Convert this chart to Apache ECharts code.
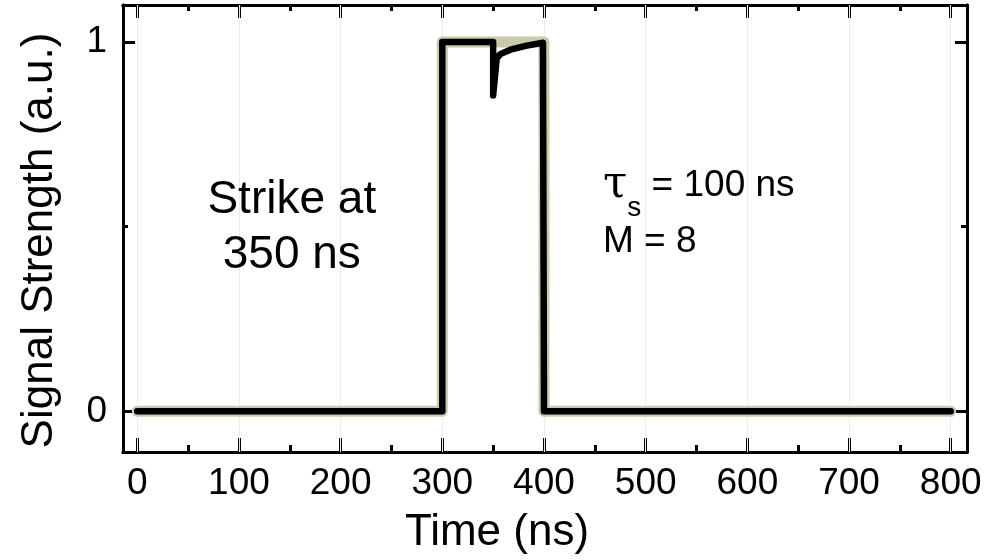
<!DOCTYPE html>
<html>
<head>
<meta charset="utf-8">
<script src="https://cdn.jsdelivr.net/npm/echarts@6.0.0/dist/echarts.min.js"></script>
<style>
  html, body { margin: 0; background: #fff; }
  #chart { width: 997px; height: 560px; }
</style>
</head>
<body>
<div id="chart"></div>
<script>
// axis ticks
var xTicks = [0, 100, 200, 300, 400, 500, 600, 700, 800];
var xMinorTicks = [50, 150, 250, 350, 450, 550, 650, 750];
var yTicks = [0, 1];
var yMinorTicks = [0.5];

// ideal pulse (thick olive line), [time ns, signal]
var idealPulse = [[0, 0], [300, 0], [300, 1], [400, 1], [400, 0], [800, 0]];
// pulse with a strike at 350 ns
var strikePulse = [[0, 0], [300, 0], [300, 1], [350, 1], [350, 0.855], [353.5, 0.955], [357, 0.967],
  [367, 0.979], [383, 0.99], [399, 0.998], [400, 0.998], [400, 0], [800, 0]];

var FONT = '"Liberation Sans", Arial, sans-serif';

function xAxis(pos, values, len, labels) {
  return {
    type: 'value', position: pos, min: -14, max: 816,
    axisLine: { show: true, onZero: false, lineStyle: { color: '#000', width: 3 } },
    axisTick: { show: true, inside: true, length: len, customValues: values, lineStyle: { color: '#000', width: 3 } },
    axisLabel: labels ? { show: true, customValues: values, margin: 13, color: '#000', fontSize: 37, fontFamily: FONT } : { show: false },
    splitLine: { show: false }
  };
}

function yAxis(pos, values, len, labels) {
  return {
    type: 'value', position: pos, min: -0.11, max: 1.1,
    axisLine: { show: true, onZero: false, lineStyle: { color: '#000', width: 3 } },
    axisTick: { show: true, inside: true, length: len, customValues: values, lineStyle: { color: '#000', width: 3 } },
    axisLabel: labels ? { show: true, customValues: values, margin: 16, color: '#000', fontSize: 37, fontFamily: FONT } : { show: false },
    splitLine: { show: false }
  };
}

var xBottom = xAxis('bottom', xTicks, 14, true);
xBottom.name = 'Time (ns)';
xBottom.nameLocation = 'middle';
xBottom.nameGap = 59;
xBottom.nameTextStyle = { color: '#000', fontSize: 44, fontFamily: FONT, padding: [0, 96, 0, 0] };

var yLeft = yAxis('left', yTicks, 12, true);
yLeft.name = 'Signal Strength (a.u.)';
yLeft.nameLocation = 'middle';
yLeft.nameGap = 61;
yLeft.nameTextStyle = { color: '#000', fontSize: 44, fontFamily: FONT, padding: [0, 24, 0, 0] };

var chart = echarts.init(document.getElementById('chart'));
chart.setOption({
  animation: false,
  backgroundColor: '#fff',
  grid: { left: 123, right: 30, top: 5, bottom: 108 },
  xAxis: [
    xBottom,
    xAxis('bottom', xMinorTicks, 7, false),
    xAxis('top', xTicks, 13, false),
    xAxis('top', xMinorTicks, 6, false)
  ],
  yAxis: [
    yLeft,
    yAxis('left', yMinorTicks, 5, false),
    yAxis('right', yTicks, 12, false),
    yAxis('right', yMinorTicks, 6, false)
  ],
  series: [
    {
      name: 'ideal', type: 'line', data: idealPulse, showSymbol: false, silent: true,
      lineStyle: { color: '#c8caa8', width: 11, cap: 'round', join: 'round' },
      markLine: {
        silent: true, symbol: 'none', label: { show: false }, z: 1,
        lineStyle: { color: '#ececec', width: 1, type: 'solid' },
        data: xTicks.map(function (v) { return { xAxis: v }; })
      }
    },
    {
      name: 'strike', type: 'line', data: strikePulse, showSymbol: false, silent: true,
      lineStyle: { color: '#000', width: 6.5, cap: 'round', join: 'round' }
    }
  ]
});

// annotations placed in data coordinates
var p1 = chart.convertToPixel({ xAxisIndex: 0, yAxisIndex: 0 }, [152, 0.498]);
var p2 = chart.convertToPixel({ xAxisIndex: 0, yAxisIndex: 0 }, [458, 0.61]);
var p3 = chart.convertToPixel({ xAxisIndex: 0, yAxisIndex: 0 }, [458, 0.46]);
chart.setOption({
  graphic: [
    { type: 'text', z: 100, x: p1[0], y: p1[1], style: { text: 'Strike at\n350 ns', fill: '#000', font: '46px ' + FONT, align: 'center', verticalAlign: 'middle', lineHeight: 55 } },
    { type: 'text', z: 100, x: p2[0], y: p2[1], style: {
        text: '{t|τ}{b|s}{a| = 100 ns}', verticalAlign: 'middle', align: 'left',
        rich: {
          t: { fontSize: 44, fontFamily: '"DejaVu Serif", serif', color: '#000' },
          a: { fontSize: 37, fontFamily: FONT, color: '#000' },
          b: { fontSize: 28, fontFamily: FONT, color: '#000', padding: [44, 0, 0, 0] }
        } } },
    { type: 'text', z: 100, x: p3[0], y: p3[1], style: { text: 'M = 8', fill: '#000', font: '37px ' + FONT, align: 'left', verticalAlign: 'middle' } }
  ]
});
</script>
</body>
</html>
